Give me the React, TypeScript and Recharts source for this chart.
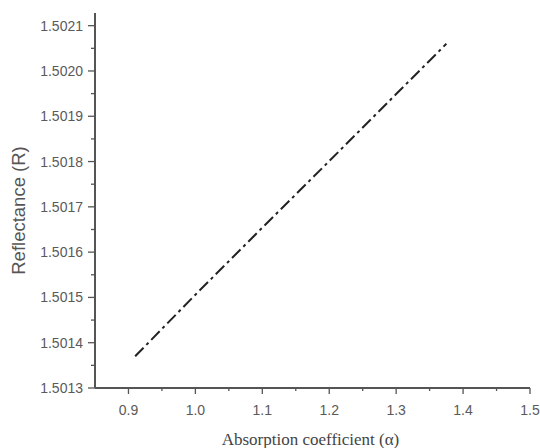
import React from "react";
import { LineChart, Line, XAxis, YAxis } from "recharts";

const absorption = [0.91, 1.0, 1.1, 1.2, 1.3, 1.375];
const reflectance = [1.50137, 1.501506, 1.501654, 1.501801, 1.501949, 1.50206];

const xTicks = [0.85, 0.9, 0.95, 1.0, 1.05, 1.1, 1.15, 1.2, 1.25, 1.3, 1.35, 1.4, 1.45, 1.5];
const xMajor = [0.9, 1.0, 1.1, 1.2, 1.3, 1.4, 1.5];
const yTicks = [1.5013, 1.50135, 1.5014, 1.50145, 1.5015, 1.50155, 1.5016, 1.50165, 1.5017, 1.50175, 1.5018, 1.50185, 1.5019, 1.50195, 1.502, 1.50205, 1.5021];
const yMajor = [1.5013, 1.5014, 1.5015, 1.5016, 1.5017, 1.5018, 1.5019, 1.502, 1.5021];

const data = absorption.map((a, i) => ({ a, r: reflectance[i] }));

const isMajor = (v: number, list: number[]) => list.some((m) => Math.abs(m - v) < 1e-7);

const AXIS = "#555";
const TXT = "#5a5a5a";
const SANS = "Liberation Sans, Arial, sans-serif";

const XTick = (props: any) => {
  const { x, y, payload } = props;
  const v = payload.value;
  const major = isMajor(v, xMajor);
  if (Math.abs(v - 0.85) < 1e-7) return <g />;
  return (
    <g>
      <line x1={x} y1={y} x2={x} y2={y + (major ? 6 : 3)} stroke={AXIS} strokeWidth={1.3} />
      {major && (
        <text x={x} y={y + 27} textAnchor="middle" fontSize={14} fill={TXT} fontFamily={SANS}>
          {v.toFixed(1)}
        </text>
      )}
    </g>
  );
};

const YTick = (props: any) => {
  const { x, y, payload } = props;
  const v = payload.value;
  const major = isMajor(v, yMajor);
  return (
    <g>
      <line x1={x} y1={y} x2={x - (major ? 7 : 4)} y2={y} stroke={AXIS} strokeWidth={1.3} />
      {major && (
        <text x={x - 12} y={y + 5} textAnchor="end" fontSize={14} fill={TXT} fontFamily={SANS}>
          {v.toFixed(4)}
        </text>
      )}
    </g>
  );
};

const YLabel = (props: any) => {
  const { viewBox } = props;
  const cx = 18;
  const cy = viewBox.y + viewBox.height / 2 + 10;
  return (
    <text
      x={cx}
      y={cy}
      transform={`rotate(-90 ${cx} ${cy})`}
      textAnchor="middle"
      dominantBaseline="central"
      fontSize={18.5}
      fill="#555"
      fontFamily={SANS}
    >
      Reflectance (R)
    </text>
  );
};

const XLabel = (props: any) => {
  const { viewBox } = props;
  const cx = viewBox.x + viewBox.width / 2 - 2;
  return (
    <text
      x={cx}
      y={445}
      textAnchor="middle"
      fontSize={17}
      fill="#444"
      fontFamily="Liberation Serif, Times New Roman, serif"
    >
      Absorption coefficient (α)
    </text>
  );
};

export default function App() {
  return (
    <div style={{ position: "absolute", left: 0, top: 0, width: 540, height: 448, background: "#fff" }}>
      <LineChart width={540} height={448} data={data} margin={{ top: 13, right: 10, bottom: 0, left: 0 }}>
        <XAxis
          dataKey="a"
          type="number"
          domain={[0.85, 1.5]}
          ticks={xTicks}
          interval={0}
          tickLine={false}
          tickSize={0}
          tickMargin={0}
          tick={<XTick />}
          height={60}
          axisLine={{ stroke: AXIS, strokeWidth: 2 }}
          label={<XLabel />}
        />
        <YAxis
          dataKey="r"
          type="number"
          domain={[1.5013, 1.502128]}
          ticks={yTicks}
          interval={0}
          tickLine={false}
          tickSize={0}
          tickMargin={0}
          tick={<YTick />}
          width={95}
          axisLine={{ stroke: AXIS, strokeWidth: 2 }}
          label={<YLabel />}
        />
        <Line
          type="linear"
          dataKey="r"
          stroke="#222"
          strokeWidth={2}
          strokeDasharray="12 4 3 4"
          dot={false}
          isAnimationActive={false}
        />
      </LineChart>
    </div>
  );
}
